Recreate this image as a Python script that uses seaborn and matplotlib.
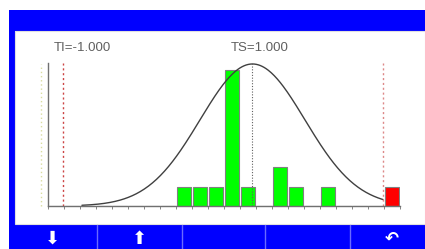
import numpy as np
import pandas as pd
import matplotlib
matplotlib.use("Agg")
import matplotlib.pyplot as plt
import seaborn as sns
from matplotlib.patches import Rectangle

# ------------------------------------------------------------------
# data
# ------------------------------------------------------------------
bin_index = list(range(22))
bin_counts = [0, 0, 0, 0, 0, 0, 0, 0, 1, 1, 1, 7, 1, 0, 2, 1, 0, 1, 0, 0, 0, 1]
bin_colors = ['#00ff00'] * 21 + ['#ff0000']
ti_pos = 0.44      # lower limit line (bin units)
ts_pos = 12.28     # target line
tu_pos = 20.44     # upper limit line
curve_mean = 12.28
curve_sigma = 3.28
curve_peak = 7.3
curve_range = (1.62, 20.44)
ti_label = "TI=-1.000"
ts_label = "TS=1.000"

W, H = 425, 249
sns.set_theme(style="white")
plt.rcParams['font.family'] = ['Liberation Sans', 'DejaVu Sans']

fig = plt.figure(figsize=(W / 100, H / 100), dpi=100)
fig.patch.set_facecolor('white')

# --- screen frame (pixel coordinates) ---
frame = fig.add_axes([0, 0, 1, 1], zorder=0)
frame.set_xlim(0, W)
frame.set_ylim(H, 0)
frame.axis('off')
blue = '#0000ff'
frame.add_patch(Rectangle((9, 10), W - 9, 21, color=blue, lw=0))
frame.add_patch(Rectangle((9, 10), 6, 214, color=blue, lw=0))
frame.add_patch(Rectangle((9, 224), W - 9, 25, color=blue, lw=0))
frame.add_patch(Rectangle((15, 31), W - 15, 193, fill=False, ec='#e0e0e0', lw=0.8))
for sx in [97, 182, 265, 350]:
    frame.plot([sx, sx], [225, 249], color='#6a6aff', lw=1)
frame.text(52, 239, "\u2b07", color='white', fontsize=13, ha='center', va='center',
           family=['DejaVu Sans'])
frame.text(139, 239, "\u2b06", color='white', fontsize=13, ha='center', va='center',
           family=['DejaVu Sans'])
frame.text(392, 239, "\u21b6", color='white', fontsize=12, ha='center', va='center',
           family=['DejaVu Sans'], fontweight='bold')
frame.text(82, 48, ti_label, color='#606060', fontsize=9.5, ha='center', va='center')
frame.text(260, 48, ts_label, color='#606060', fontsize=9.5, ha='center', va='center')

# --- histogram panel ---
ax = fig.add_axes([48 / W, (H - 206) / H, 352 / W, 143 / H], zorder=1)
ax.patch.set_alpha(0)

df = pd.DataFrame({'bin': bin_index, 'count': bin_counts})
sns.barplot(data=df, x='bin', y='count', hue='bin', palette=bin_colors,
            order=bin_index, width=0.85, saturation=1, edgecolor='#808080',
            linewidth=0.8, legend=False, ax=ax)

xs = np.linspace(curve_range[0], curve_range[1], 300)
ys = curve_peak * np.exp(-0.5 * ((xs - curve_mean) / curve_sigma) ** 2)
ax.plot(xs, ys, color='#404040', lw=1.0)

ax.axvline(ti_pos, color='#cc4444', lw=1, ls=(0, (1.5, 2)))
ax.axvline(tu_pos, color='#dd8888', lw=1, ls=(0, (1.5, 2)))
ax.axvline(ts_pos, color='#606060', lw=0.8, ls=(0, (1, 1.5)))
ax.plot([-0.96, -0.96], [0, curve_peak], color='#d8dca0', lw=1,
        ls=(0, (1, 2)), clip_on=False)

ax.set_xlim(-0.5, 21.5)
ax.set_ylim(0, 7.35)
ax.set_xticks(np.arange(-0.5, 22, 1))
ax.set_xticklabels([])
ax.set_yticks([])
ax.set_xlabel('')
ax.set_ylabel('')
ax.tick_params(axis='x', direction='out', length=2, width=0.6, color='#707070', bottom=True)
for side in ['top', 'right']:
    ax.spines[side].set_visible(False)
for side in ['left', 'bottom']:
    ax.spines[side].set_color('#707070')
    ax.spines[side].set_linewidth(1.0)

fig.savefig('out.png', dpi=100)
